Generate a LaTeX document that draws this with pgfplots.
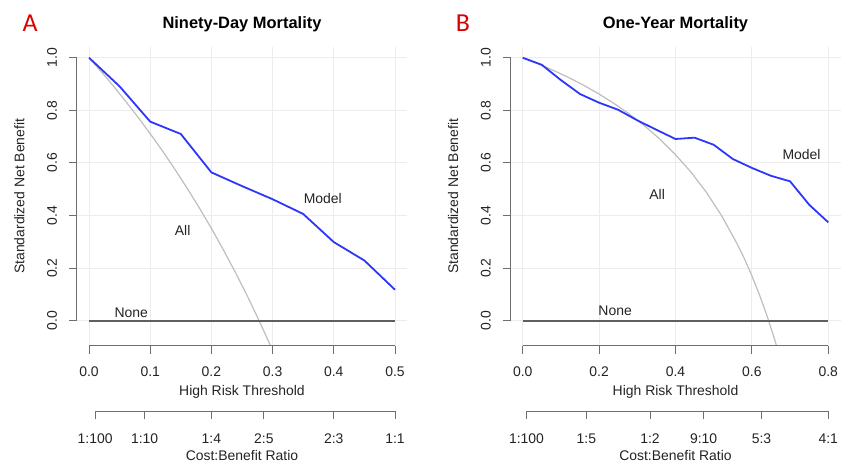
\documentclass[border=0pt]{standalone}
\usepackage{pgfplots}
\pgfplotsset{compat=1.18}
\usepackage{fontspec}
\setmainfont{Liberation Sans}
\newfontfamily\panelfont{Carlito}
\definecolor{modelblue}{RGB}{45,55,250}
\definecolor{allgray}{RGB}{190,190,190}
\definecolor{nonegray}{RGB}{95,95,95}
\definecolor{axgray}{RGB}{110,110,110}
\definecolor{gridgray}{RGB}{236,236,236}
\definecolor{txt}{RGB}{35,35,35}
\newcommand{\lab}{\fontsize{14}{16}\selectfont}

\pgfplotsset{
  dca/.style={
    scale only axis, height=299bp,
    ymin=-0.095, ymax=1.042,
    axis x line*=bottom, axis y line*=left,
    x axis line style={draw=none,-}, y axis line style={draw=none,-},
    tick align=outside, major tick length=8bp,
    tick style={axgray, line width=0.9bp},
    xmajorgrids, ymajorgrids, major grid style={gridgray, line width=0.9bp},
    ytick={0,0.2,0.4,0.6,0.8,1.0},
    yticklabels={0.0,0.2,0.4,0.6,0.8,1.0},
    tick label style={font=\lab, text=txt},
    yticklabel style={rotate=90, anchor=base, yshift=12bp},
    xticklabel style={anchor=base, yshift=-23bp},
    /pgf/number format/assume math mode=true,
    clip mode=individual,
    ylabel={Standardized Net Benefit},
    ylabel style={font=\lab, text=txt, at={(axis description cs:-0.159,0.5)}, anchor=base},
    xlabel={High Risk Threshold},
    xlabel style={font=\lab, text=txt, at={(axis description cs:0.5,-0.168)}, anchor=base},
    title style={font=\fontsize{16.5}{19}\selectfont\bfseries, at={(axis description cs:0.5,1.064)}, anchor=base, yshift=-6.5bp},
  },
  cba/.style={
    scale only axis, height=10bp, ymin=0, ymax=1,
    axis x line*=bottom, axis y line=none,
    x axis line style={draw=none,-},
    tick align=outside, major tick length=8bp,
    tick style={axgray, line width=0.9bp},
    tick label style={font=\lab, text=txt},
    xticklabel style={anchor=base, yshift=-24.5bp},
    clip mode=individual,
    xlabel={Cost:Benefit Ratio},
    xlabel style={font=\lab, text=txt, at={(axis description cs:0.5,0)}, anchor=base, yshift=-49bp},
  }
}

\begin{document}
\begin{tikzpicture}
\useasboundingbox (0,0) rectangle (842bp,463bp);

% ---------------- Panel A ----------------
\begin{axis}[dca, at={(76.8bp,117.3bp)}, anchor=south west, width=330.4bp,
  xmin=-0.02, xmax=0.52,
  xtick={0,0.1,0.2,0.3,0.4,0.5}, xticklabels={0.0,0.1,0.2,0.3,0.4,0.5},
  title={Ninety-Day Mortality}]
\addplot[allgray, line width=1.2bp] coordinates {
(0,1.000)(0.02,0.947)(0.04,0.892)(0.06,0.834)(0.08,0.774)(0.10,0.711)
(0.12,0.646)(0.14,0.577)(0.16,0.505)(0.18,0.430)(0.20,0.351)(0.22,0.268)
(0.24,0.180)(0.26,0.088)(0.28,-0.010)(0.30,-0.113)};
\addplot[nonegray, line width=2bp] coordinates {(0,0)(0.5,0)};
\addplot[modelblue, line width=1.8bp] coordinates {
(0,1.000)(0.05,0.891)(0.10,0.757)(0.15,0.710)(0.20,0.564)(0.25,0.512)
(0.30,0.462)(0.35,0.406)(0.40,0.299)(0.45,0.229)(0.50,0.118)};
\draw[axgray, line width=0.9bp] (axis cs:0,-0.095) -- (axis cs:0.5,-0.095);
\draw[axgray, line width=0.9bp] (axis cs:-0.02,0) -- (axis cs:-0.02,1);
\node[font=\lab, text=txt] at (axis cs:0.382,0.464) {Model};
\node[font=\lab, text=txt] at (axis cs:0.153,0.342) {All};
\node[font=\lab, text=txt] at (axis cs:0.069,0.029) {None};
\end{axis}
\begin{axis}[cba, at={(76.8bp,52bp)}, anchor=south west, width=330.4bp,
  xmin=-0.02, xmax=0.52,
  xtick={0.0099,0.0909,0.2,0.2857,0.4,0.5},
  xticklabels={1:100,1:10,1:4,2:5,2:3,1:1}]
\draw[axgray, line width=0.9bp] (axis cs:0.0099,0) -- (axis cs:0.5,0);
\end{axis}

% ---------------- Panel B ----------------
\begin{axis}[dca, at={(510.5bp,117.3bp)}, anchor=south west, width=330bp,
  xmin=-0.032, xmax=0.832,
  xtick={0,0.2,0.4,0.6,0.8}, xticklabels={0.0,0.2,0.4,0.6,0.8},
  title={One-Year Mortality}]
\addplot[allgray, line width=1.2bp] coordinates {
(0,1.000)(0.04,0.977)(0.08,0.952)(0.12,0.925)(0.16,0.895)(0.20,0.862)
(0.24,0.825)(0.28,0.785)(0.32,0.740)(0.36,0.689)(0.40,0.631)(0.44,0.566)
(0.48,0.490)(0.52,0.401)(0.56,0.296)(0.58,0.237)(0.60,0.171)(0.62,0.098)
(0.64,0.017)(0.66,-0.073)(0.68,-0.175)};
\addplot[nonegray, line width=2bp] coordinates {(0,0)(0.8,0)};
\addplot[modelblue, line width=1.8bp] coordinates {
(0,1.000)(0.05,0.973)(0.10,0.915)(0.15,0.862)(0.20,0.829)(0.25,0.802)
(0.30,0.762)(0.35,0.726)(0.40,0.691)(0.45,0.696)(0.50,0.669)(0.55,0.615)
(0.60,0.581)(0.65,0.551)(0.70,0.530)(0.75,0.441)(0.80,0.374)};
\draw[axgray, line width=0.9bp] (axis cs:0,-0.095) -- (axis cs:0.8,-0.095);
\draw[axgray, line width=0.9bp] (axis cs:-0.032,0) -- (axis cs:-0.032,1);
\node[font=\lab, text=txt] at (axis cs:0.730,0.631) {Model};
\node[font=\lab, text=txt] at (axis cs:0.352,0.479) {All};
\node[font=\lab, text=txt] at (axis cs:0.242,0.039) {None};
\end{axis}
\begin{axis}[cba, at={(510.5bp,52bp)}, anchor=south west, width=330bp,
  xmin=-0.032, xmax=0.832,
  xtick={0.0099,0.1667,0.3333,0.4737,0.625,0.8},
  xticklabels={1:100,1:5,1:2,9:10,5:3,4:1}]
\draw[axgray, line width=0.9bp] (axis cs:0.0099,0) -- (axis cs:0.8,0);
\end{axis}

% panel letters
\node[font=\panelfont\fontsize{26}{30}\selectfont, text=red!85!black, anchor=base] at (30bp,431.3bp) {A};
\node[font=\panelfont\fontsize{26}{30}\selectfont, text=red!85!black, anchor=base] at (463bp,431.3bp) {B};
\end{tikzpicture}
\end{document}
